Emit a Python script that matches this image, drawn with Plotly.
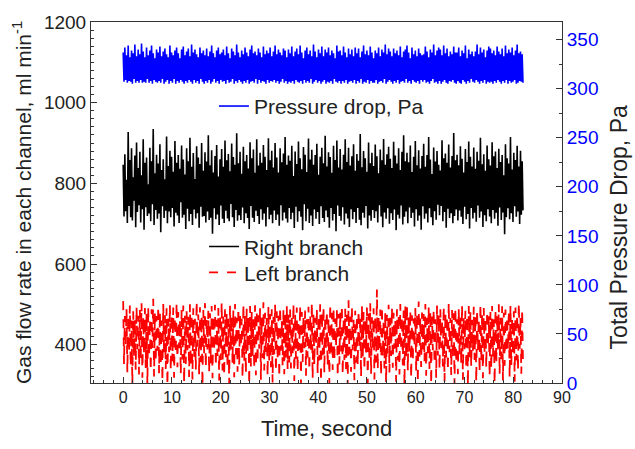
import numpy as np
import plotly.graph_objects as go

# recorded signals, sampled every dt seconds (0 .. ~82 s)
right_branch = [
    846,718,872,731,809,702,927,744,858,716,887,708,815,757,869,691,901,729,838,746,
    878,703,820,736,909,685,851,741,864,719,798,725,888,706,855,748,935,697,825,734,
    871,712,849,725,897,679,833,743,860,714,810,732,916,701,843,730,881,716,866,739,
    829,693,905,727,851,720,870,702,836,753,894,715,859,722,822,687,887,737,855,706,
    913,724,841,697,875,735,811,713,892,726,864,690,848,742,900,717,831,719,877,703,
    854,730,919,709,845,715,882,675,827,738,868,711,895,723,817,697,860,745,885,712,
    841,702,906,732,857,713,873,706,830,749,899,716,865,692,846,734,924,707,850,721,
    878,709,824,740,891,701,855,726,870,714,837,687,902,744,862,715,884,704,826,732,
    909,719,844,699,876,736,851,710,895,725,866,693,833,741,912,711,857,722,881,701,
    839,733,900,709,864,723,827,695,887,746,852,708,874,728,915,713,846,703,869,739,
    856,711,893,727,818,689,879,742,848,705,904,731,862,717,835,684,890,748,871,706,
    828,737,911,702,859,720,883,694,846,735,870,712,898,729,821,699,866,743,888,714,
    850,704,918,733,842,716,877,690,865,739,826,708,893,724,858,681,906,745,839,719,
    885,707,834,741,871,698,909,725,853,713,888,692,844,736,867,711,897,729,831,702,
    873,739,856,710,922,696,840,727,880,715,862,744,829,688,901,720,850,707,876,734,
    843,714,896,731,867,703,825,746,884,718,857,691,910,728,846,712,872,738,891,700,
    861,726,838,709,903,735,869,684,849,722,887,713,833,745,878,698,919,717,855,730,
    876,701,852,740,894,714,828,727,866,693,905,736,845,707,882,720,837,685,868,743,
    898,712,841,725,870,703,915,738,859,716,823,696,889,731,854,710,880,747,846,721,
    832,744,907,706,862,729,874,690,851,737,896,714,839,726,868,701,925,719,857,735,
    871,708,845,733,892,717,861,699,827,742,885,711,853,724,904,688,866,739,842,713,
    889,727,836,705,878,745,856,715,913,730,847,692,872,721,831,706,894,736,860,718,
    844,701,902,734,867,712,879,727,838,695,886,740,853,709,870,728,820,674,897,716,
    862,738,849,711,915,726,834,704,876,743,858,717,893,730,842,699,881,722,855,733,
]

pressure_drop = [
    337,307,342,309,334,306,344,308,332,307,339,305,336,310,345,306,333,308,340,306,
    335,309,346,306,338,307,332,306,342,310,334,306,339,308,344,305,336,309,331,307,
    340,306,337,308,343,306,333,310,338,305,341,307,335,309,332,305,344,308,337,306,
    334,310,339,305,342,308,336,306,331,309,340,307,343,305,334,308,338,306,341,309,
    333,307,345,305,337,309,340,306,335,308,332,305,342,310,336,307,339,305,334,308,
    341,306,333,309,338,305,344,307,336,310,332,306,339,308,342,305,335,309,337,307,
    340,308,334,305,343,309,336,306,331,307,341,310,338,305,334,308,345,306,337,309,
    332,307,339,305,335,308,342,306,337,309,333,305,340,307,344,308,336,306,338,310,
    334,305,341,309,337,306,332,308,343,307,335,305,339,309,336,306,342,308,333,307,
    338,309,344,306,335,308,340,305,337,307,334,310,341,306,339,308,332,305,340,307,
    336,306,343,308,333,305,338,309,341,307,335,306,344,308,337,305,331,309,339,306,
    342,308,335,306,339,310,333,305,345,307,338,309,332,306,340,308,336,305,343,307,
    333,309,340,305,337,307,342,306,334,308,339,305,336,310,331,307,344,306,338,308,
    339,305,334,308,343,306,337,309,332,305,341,307,335,308,340,306,333,309,342,305,
    336,308,341,306,332,310,338,305,344,307,335,306,339,309,334,305,343,308,337,306,
    331,306,339,309,336,305,342,307,333,308,340,306,337,310,345,305,335,307,341,309,
    338,307,333,305,341,308,336,306,339,309,334,305,343,307,332,308,338,306,340,310,
    344,306,337,308,331,305,342,309,335,307,339,306,333,308,341,305,336,309,334,307,
    335,309,343,306,338,307,332,305,340,308,337,310,345,306,334,307,339,305,342,308,
    340,305,334,307,344,309,336,306,341,305,333,308,338,307,335,309,343,306,337,305,
    337,308,342,306,333,305,339,309,336,307,344,305,331,308,340,306,335,310,338,307,
    333,306,338,309,345,307,335,305,342,308,337,306,340,309,332,305,339,307,343,306,
    341,307,336,305,339,308,334,306,343,309,338,307,335,305,341,308,333,306,344,309,
    336,305,340,308,337,306,342,307,334,309,339,305,345,306,336,308,338,307,335,306,
]

left_branch = [
    508,352,471,395,489,331,474,380,497,345,460,302,483,372,465,338,494,389,472,326,
    486,360,503,318,468,377,491,342,477,299,495,368,463,334,488,392,514,321,479,356,
    471,385,496,329,482,350,460,309,501,374,473,340,490,298,465,381,499,335,476,359,
    492,318,468,376,505,344,481,391,462,327,487,363,497,304,472,352,483,386,469,320,
    500,347,477,314,490,370,464,338,509,395,475,325,493,357,471,297,486,379,503,342,
    465,388,484,330,478,354,496,317,473,383,499,345,462,372,491,311,476,362,506,336,
    470,322,488,369,480,341,464,301,497,387,472,353,485,319,501,375,467,333,492,349,
    478,393,464,316,502,360,475,328,489,381,470,300,496,346,481,371,463,339,498,324,
    484,355,473,390,491,313,468,367,505,336,479,382,466,321,494,358,476,344,488,306,
    469,376,500,332,483,362,472,318,495,385,462,349,489,327,478,368,497,340,474,356,
    487,341,466,379,503,310,477,365,492,333,461,387,498,302,481,357,470,391,485,323,
    463,368,494,335,475,384,506,315,480,349,467,396,490,328,473,361,500,307,482,374,
    496,330,472,388,485,346,468,303,502,371,479,337,493,359,465,392,487,319,476,351,
    481,383,499,324,466,362,489,340,474,298,510,376,470,333,495,386,462,312,484,355,
    473,347,486,391,469,320,498,366,481,335,464,380,492,304,477,358,503,327,468,389,
    490,314,475,356,537,338,471,384,487,322,496,369,463,341,482,305,474,377,499,331,
    467,372,493,343,479,390,462,308,488,361,476,326,501,384,470,349,485,299,495,366,
    499,335,470,382,486,316,473,357,465,393,491,332,478,304,507,370,468,345,480,388,
    476,359,501,323,467,379,494,340,483,301,470,386,489,352,463,318,497,373,475,337,
    488,392,464,346,497,309,480,368,471,334,505,381,466,325,486,363,478,300,493,354,
    463,327,490,374,475,351,499,313,468,389,484,339,472,297,496,367,481,345,462,383,
    494,362,473,306,487,385,466,330,502,358,477,317,491,376,469,342,484,394,471,321,
    481,338,496,371,463,303,489,353,474,387,500,326,467,364,495,311,479,348,487,380,
    470,386,485,319,498,347,466,373,483,308,492,361,476,335,504,390,468,328,489,352,
]

dt = 82.0 / (len(right_branch) - 1)
time_s = np.arange(len(right_branch)) * dt

x_ticks = [0, 10, 20, 30, 40, 50, 60, 70, 80, 90]
y_ticks = [400, 600, 800, 1000, 1200]
y2_ticks = [0, 50, 100, 150, 200, 250, 300, 350]

FONT = "Liberation Sans, Arial, sans-serif"
AX = "#333333"

fig = go.Figure()
fig.add_trace(go.Scatter(x=time_s, y=pressure_drop, mode="lines", name="Pressure drop, Pa",
                         line=dict(color="#0000ff", width=1.6, simplify=False),
                         yaxis="y2", legend="legend"))
fig.add_trace(go.Scatter(x=time_s, y=right_branch, mode="lines", name="Right branch",
                         line=dict(color="black", width=1.6, simplify=False),
                         legend="legend2"))
fig.add_trace(go.Scatter(x=time_s, y=left_branch, mode="lines", name="Left branch",
                         line=dict(color="#ff0000", width=1.8, dash="dash", simplify=False),
                         legend="legend3"))

leg_common = dict(xanchor="left", yanchor="top", bgcolor="rgba(0,0,0,0)",
                  font=dict(size=21, color="#222222"))

fig.update_layout(
    width=635, height=449,
    margin=dict(l=91, r=73, t=15, b=56),
    paper_bgcolor="white", plot_bgcolor="white",
    font=dict(family=FONT, color="#222222"),
    showlegend=True,
    xaxis=dict(range=[-6.6, 90], tickvals=x_ticks, ticks="inside", ticklen=6, tickcolor=AX,
               showline=True, linecolor=AX, linewidth=1, mirror=True,
               showgrid=False, zeroline=False, tickfont=dict(size=16),
               minor=dict(dtick=2, tick0=0, ticks="inside", ticklen=3, tickcolor=AX),
               title=dict(text="Time, second", font=dict(size=22), standoff=15)),
    yaxis=dict(range=[305, 1200], tickvals=y_ticks, ticks="inside", ticklen=6, tickcolor=AX,
               showline=True, linecolor=AX, linewidth=1,
               showgrid=False, zeroline=False, tickfont=dict(size=19),
               minor=dict(dtick=20, tick0=0, ticks="inside", ticklen=3, tickcolor=AX),
               title=dict(text="Gas flow rate in each channel, ml min<sup>-1</sup>",
                          font=dict(size=21), standoff=6)),
    yaxis2=dict(range=[0, 368], tickvals=y2_ticks, ticks="inside", ticklen=6, tickcolor=AX,
                overlaying="y", side="right", anchor="x",
                showline=True, linecolor=AX, linewidth=1,
                showgrid=False, zeroline=False,
                tickfont=dict(size=19, color="#0000ff")),
    legend=dict(x=0.261, y=0.823, **leg_common),
    legend2=dict(x=0.240, y=0.434, **leg_common),
    legend3=dict(x=0.240, y=0.362, **leg_common),
    annotations=[dict(text="Total Pressure Drop, Pa", textangle=-90,
                      xref="paper", yref="paper", x=1.121, y=0.431,
                      xanchor="center", yanchor="middle", showarrow=False,
                      font=dict(size=23, color="#222222"))],
)
fig.update_layout(yaxis2_minor=dict(dtick=25, tick0=0, ticks="inside", ticklen=3, tickcolor=AX))

fig.write_html("out.html")
